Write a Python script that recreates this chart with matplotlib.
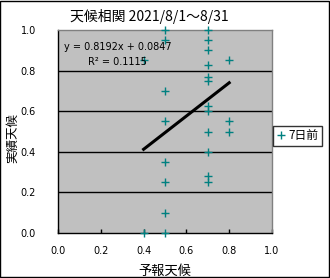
import matplotlib
matplotlib.use("Agg")
import matplotlib.pyplot as plt
from matplotlib.patches import Rectangle

plt.rcParams['font.family'] = ['Noto Sans CJK JP', 'DejaVu Sans']

# data
x_vals = [0.4, 0.4,
          0.5, 0.5, 0.5, 0.5, 0.5, 0.5, 0.5, 0.5,
          0.7, 0.7, 0.7, 0.7, 0.7, 0.7, 0.7, 0.7, 0.7, 0.7, 0.7, 0.7,
          0.8, 0.8, 0.8]
y_vals = [0.85, 0.0,
          1.0, 0.95, 0.70, 0.55, 0.35, 0.25, 0.10, 0.0,
          1.0, 0.95, 0.90, 0.83, 0.77, 0.75, 0.625, 0.60, 0.50, 0.40, 0.28, 0.25,
          0.85, 0.55, 0.50]
slope = 0.8192
intercept = 0.0847
r2 = 0.1115
trend_x = [0.4, 0.8]
ticks = [0.0, 0.2, 0.4, 0.6, 0.8, 1.0]
tick_labels = ['0.0', '0.2', '0.4', '0.6', '0.8', '1.0']

fig = plt.figure(figsize=(3.30, 2.78), dpi=100)
fig.patch.set_facecolor('white')
fig.patches.append(Rectangle((0.0015, 0.002), 0.996, 0.995, transform=fig.transFigure,
                             fill=False, edgecolor='black', linewidth=1))

ax = fig.add_axes([58/330, 1-233/278, 214/330, 203/278])
ax.set_facecolor('#C0C0C0')
ax.set_xlim(0, 1)
ax.set_ylim(0, 1)

for g in ticks[1:-1]:
    ax.axhline(g, color='black', linewidth=1, zorder=1)

ax.plot(x_vals, y_vals, linestyle='none', marker='+', color='#008080',
        markersize=6, markeredgewidth=1, clip_on=False, zorder=3, label='7日前')

trend_y = [slope * v + intercept for v in trend_x]
ax.plot(trend_x, trend_y, color='black', linewidth=2.2, zorder=2)

ax.text(0.03, 0.915, f'y = {slope}x + {intercept}', transform=ax.transAxes,
        fontsize=7, family='DejaVu Sans', va='center', ha='left')
ax.text(0.14, 0.84, f'R² = {r2}', transform=ax.transAxes,
        fontsize=7, family='DejaVu Sans', va='center', ha='left')

ax.spines['left'].set_color('black')
ax.spines['bottom'].set_color('black')
ax.spines['top'].set_color('#808080')
ax.spines['right'].set_color('#808080')
for s in ax.spines.values():
    s.set_linewidth(1)

ax.set_xticks(ticks)
ax.set_xticklabels(tick_labels, fontsize=7, family='DejaVu Sans')
ax.set_yticks(ticks)
ax.set_yticklabels(tick_labels, fontsize=7, family='DejaVu Sans')
ax.tick_params(axis='x', direction='in', length=3, width=1, pad=9)
ax.tick_params(axis='y', length=0, pad=16)

ax.set_xlabel('予報天候', fontsize=9.5, labelpad=7)
ax.set_ylabel('実績天候', fontsize=9)
ax.yaxis.set_label_coords(-39/214, 0.47)

fig.text(149/330, 1-16/278, '天候相関 2021/8/1～8/31', fontsize=10,
         ha='center', va='center')

leg = ax.legend(loc='center left', bbox_to_anchor=(1.0, 0.48), fontsize=8.5,
                frameon=True, fancybox=False, edgecolor='black',
                handlelength=0.8, handletextpad=0.2, borderpad=0.3,
                borderaxespad=0.1)
leg.get_frame().set_linewidth(1)

fig.savefig('out.png', dpi=100)
